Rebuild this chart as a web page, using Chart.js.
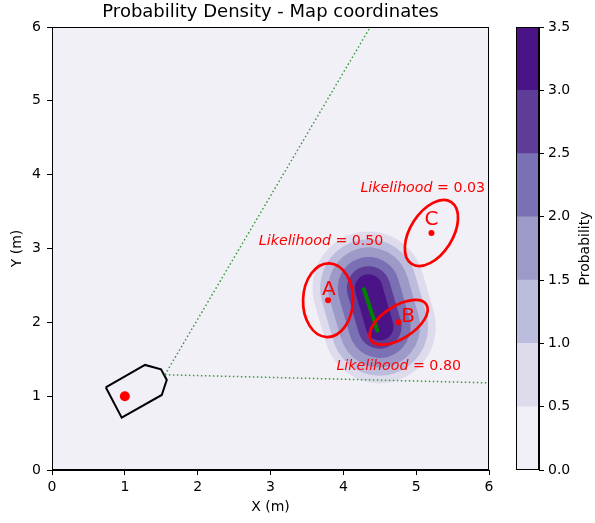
<!DOCTYPE html>
<html>
<head>
<meta charset="utf-8">
<script src="https://cdn.jsdelivr.net/npm/chart.js@4.4.0/dist/chart.umd.min.js"></script>
<style>
  body { margin: 0; background: #fff; }
  #wrap { position: relative; width: 595px; height: 523px; }
  canvas { position: absolute; top: 0; }
</style>
</head>
<body>
<div id="wrap">
  <canvas id="map" width="595" height="523" style="left:0"></canvas>
  <canvas id="cbar" width="95" height="523" style="left:500px"></canvas>
</div>
<script>
// axis ticks (m) and colour bar levels
const axisTicks = [0, 1, 2, 3, 4, 5, 6];
const levelTicks = [0.0, 0.5, 1.0, 1.5, 2.0, 2.5, 3.0, 3.5];
const levelColors = ['#f2f0f7', '#dedcec', '#bcbddc', '#9e9ac8', '#7a70b4', '#5e3d98', '#4a1486'];

// probability density: distance (m) of each level's edge from the density axis, levels 0.5 .. 3.0
const densityAxisX = [4.347, 4.499];
const densityAxisY = [2.461, 1.943];
const levelReach = [0.77, 0.665, 0.555, 0.425, 0.30, 0.19];

// boat outline and position
const boatX = [0.738, 1.277, 1.497, 1.576, 1.507, 0.957, 0.738];
const boatY = [1.120, 1.423, 1.364, 1.220, 1.016, 0.709, 1.120];
const boatPosX = [1.0];
const boatPosY = [1.0];

// sensor field of view
const sensorX = 1.55;
const sensorY = 1.29;
const fovEndX = [4.37, 6.0];
const fovEndY = [6.0, 1.18];

// estimated track
const trackX = [4.276, 4.368, 4.474];
const trackY = [2.47, 2.19, 1.866];

// targets and their uncertainty ellipses
const targetNames = ['A', 'B', 'C'];
const targetX = [3.79, 4.76, 5.21];
const targetY = [2.30, 2.00, 3.21];
const ellipseMajor = [0.50, 0.45, 0.50];
const ellipseMinor = [0.343, 0.22, 0.29];
const ellipseAngle = [88, 32, 57];
const likelihood = [0.50, 0.80, 0.03];
const nameX = [3.80, 4.89, 5.21];
const nameY = [2.44, 2.07, 3.39];
const likelihoodX = [3.695, 4.76, 5.09];
const likelihoodY = [3.10, 1.40, 3.81];

Chart.defaults.font.family = 'DejaVu Sans';
Chart.defaults.color = '#000';

const pts = (xs, ys) => xs.map((x, i) => ({ x: x, y: ys[i] }));

// switch the context to data units (m), y up
function dataSpace(chart, ctx) {
  const xs = chart.scales.x, ys = chart.scales.y;
  const x0 = xs.getPixelForValue(0), y0 = ys.getPixelForValue(0);
  ctx.translate(x0, y0);
  ctx.scale(xs.getPixelForValue(1) - x0, ys.getPixelForValue(1) - y0);
}

const densityPlugin = {
  id: 'density',
  beforeDatasetsDraw(chart) {
    const ctx = chart.ctx, a = chart.chartArea;
    ctx.save();
    ctx.fillStyle = levelColors[0];
    ctx.fillRect(a.left, a.top, a.right - a.left, a.bottom - a.top);
    dataSpace(chart, ctx);
    ctx.lineCap = 'round';
    levelReach.forEach((r, i) => {
      ctx.beginPath();
      ctx.moveTo(densityAxisX[0], densityAxisY[0]);
      ctx.lineTo(densityAxisX[1], densityAxisY[1]);
      ctx.lineWidth = 2 * r;
      ctx.strokeStyle = levelColors[i + 1];
      ctx.stroke();
    });
    ctx.restore();
  }
};

const targetPlugin = {
  id: 'targets',
  afterDatasetsDraw(chart) {
    const ctx = chart.ctx, xs = chart.scales.x, ys = chart.scales.y;
    targetNames.forEach((name, i) => {
      ctx.save();
      dataSpace(chart, ctx);
      ctx.beginPath();
      ctx.ellipse(targetX[i], targetY[i], ellipseMajor[i], ellipseMinor[i],
        ellipseAngle[i] * Math.PI / 180, 0, 2 * Math.PI);
      ctx.restore();
      ctx.save();
      ctx.strokeStyle = '#ff0000';
      ctx.lineWidth = 2.7;
      ctx.stroke();

      ctx.fillStyle = '#ff0000';
      ctx.textAlign = 'center';
      ctx.textBaseline = 'middle';
      ctx.font = '20px "DejaVu Sans"';
      ctx.fillText(name, xs.getPixelForValue(nameX[i]), ys.getPixelForValue(nameY[i]));

      const italic = 'Likelihood';
      const rest = ' = ' + likelihood[i].toFixed(2);
      ctx.font = 'italic 14.2px "DejaVu Sans"';
      const w1 = ctx.measureText(italic).width;
      ctx.font = '14.2px "DejaVu Sans"';
      const w2 = ctx.measureText(rest).width;
      const lx = xs.getPixelForValue(likelihoodX[i]) - (w1 + w2) / 2;
      const ly = ys.getPixelForValue(likelihoodY[i]);
      ctx.textAlign = 'left';
      ctx.font = 'italic 14.2px "DejaVu Sans"';
      ctx.fillText(italic, lx, ly);
      ctx.font = '14.2px "DejaVu Sans"';
      ctx.fillText(rest, lx + w1, ly);
      ctx.restore();
    });
  },
  afterDraw(chart) {
    const ctx = chart.ctx, a = chart.chartArea;
    ctx.save();
    ctx.strokeStyle = '#000';
    ctx.lineWidth = 1;
    ctx.strokeRect(Math.round(a.left) + 0.5, Math.round(a.top) + 0.5,
      Math.round(a.right - a.left) - 1, Math.round(a.bottom - a.top) - 1);
    ctx.restore();
  }
};

const fovStyle = { showLine: true, borderColor: '#3a9a3a', borderWidth: 1.5, borderDash: [1.5, 2.5], pointRadius: 0 };

new Chart(document.getElementById('map'), {
  type: 'scatter',
  data: {
    datasets: [
      Object.assign({ data: [{ x: sensorX, y: sensorY }, { x: fovEndX[0], y: fovEndY[0] }] }, fovStyle),
      Object.assign({ data: [{ x: sensorX, y: sensorY }, { x: fovEndX[1], y: fovEndY[1] }] }, fovStyle),
      { data: pts(trackX, trackY), showLine: true, borderColor: '#008000', borderWidth: 4, pointRadius: 0 },
      { data: pts(boatX, boatY), showLine: true, borderColor: '#000', borderWidth: 2, pointRadius: 0 },
      { data: pts(boatPosX, boatPosY), pointRadius: 5, backgroundColor: '#ff0000', borderWidth: 0 },
      { data: pts(targetX, targetY), pointRadius: 3, backgroundColor: '#ff0000', borderWidth: 0 }
    ]
  },
  options: {
    responsive: false,
    animation: false,
    layout: { padding: { right: 106 } },
    plugins: {
      legend: { display: false },
      tooltip: { enabled: false },
      title: {
        display: true,
        text: 'Probability Density - Map coordinates',
        font: { size: 18, weight: 'normal' },
        padding: { top: 2, bottom: 3.4 },
        fullSize: false
      }
    },
    scales: {
      x: {
        type: 'linear', min: 0, max: 6,
        afterBuildTicks: (s) => { s.ticks = axisTicks.map(v => ({ value: v })); },
        afterFit: (s) => { s.height = 53; },
        ticks: { font: { size: 14 }, padding: 4, maxRotation: 0 },
        grid: { drawOnChartArea: false, tickLength: 5, color: '#000' },
        border: { color: '#000' },
        title: { display: true, text: 'X (m)', font: { size: 14 }, padding: { top: 0, bottom: 7 } }
      },
      y: {
        type: 'linear', min: 0, max: 6,
        afterBuildTicks: (s) => { s.ticks = axisTicks.map(v => ({ value: v })); },
        afterFit: (s) => { s.width = 52; },
        ticks: { font: { size: 14 }, padding: 6 },
        grid: { drawOnChartArea: false, tickLength: 5, color: '#000' },
        border: { color: '#000' },
        title: { display: true, text: 'Y (m)', font: { size: 14 }, padding: { top: 9, bottom: 0 } }
      }
    }
  },
  plugins: [densityPlugin, targetPlugin]
});

const cbarPlugin = {
  id: 'cbarFrame',
  afterDraw(chart) {
    const ctx = chart.ctx, a = chart.chartArea;
    ctx.save();
    ctx.strokeStyle = '#000';
    ctx.lineWidth = 1;
    ctx.strokeRect(Math.round(a.left) + 0.5, Math.round(a.top) + 0.5,
      Math.round(a.right - a.left) - 1, Math.round(a.bottom - a.top) - 1);
    ctx.translate(85, (a.top + a.bottom) / 2);
    ctx.rotate(-Math.PI / 2);
    ctx.font = '14px "DejaVu Sans"';
    ctx.fillStyle = '#000';
    ctx.textAlign = 'center';
    ctx.textBaseline = 'middle';
    ctx.fillText('Probability', 0, 0);
    ctx.restore();
  }
};

new Chart(document.getElementById('cbar'), {
  type: 'bar',
  data: {
    labels: [''],
    datasets: levelColors.map((c, i) => ({
      data: [levelTicks[i + 1] - levelTicks[i]],
      backgroundColor: c,
      borderWidth: 0,
      barPercentage: 1,
      categoryPercentage: 1
    }))
  },
  options: {
    responsive: false,
    animation: false,
    layout: { padding: { left: 16, top: 27, bottom: 53 } },
    plugins: { legend: { display: false }, tooltip: { enabled: false } },
    scales: {
      x: { display: false, stacked: true },
      y: {
        stacked: true, position: 'right', min: 0, max: 3.5,
        afterBuildTicks: (s) => { s.ticks = levelTicks.map(v => ({ value: v })); },
        afterFit: (s) => { s.width = 56; },
        ticks: { font: { size: 14 }, padding: 4, callback: (v) => v.toFixed(1) },
        grid: { drawOnChartArea: false, tickLength: 5, color: '#000' },
        border: { color: '#000' }
      }
    }
  },
  plugins: [cbarPlugin]
});
</script>
</body>
</html>
